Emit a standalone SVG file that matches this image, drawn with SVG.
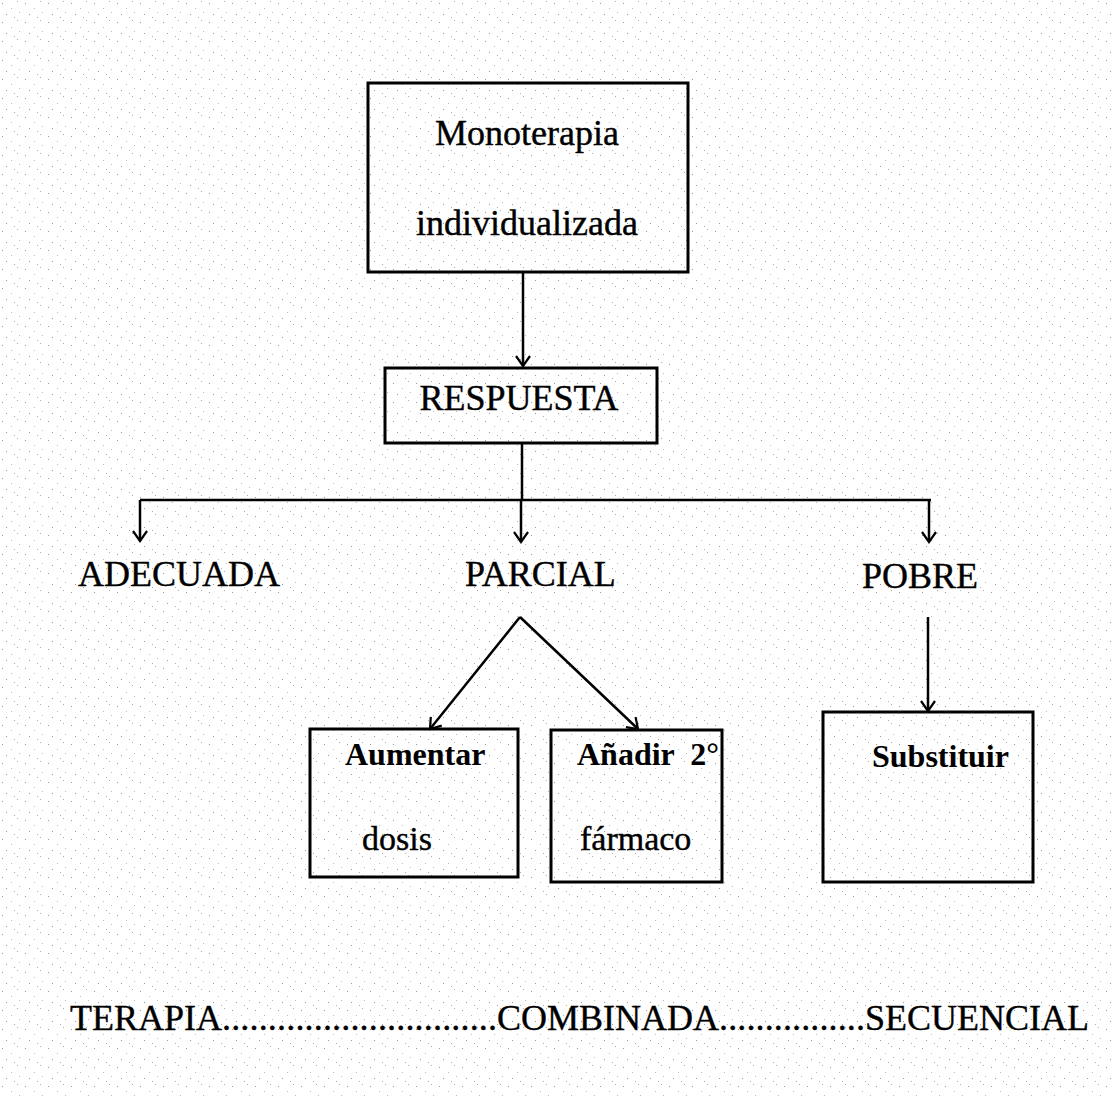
<svg xmlns="http://www.w3.org/2000/svg" width="1112" height="1096" viewBox="0 0 1112 1096">
<style>
.box{fill:none;stroke:#000;stroke-width:3}
.t{font-family:"Liberation Serif","Times New Roman",serif;font-size:36px;fill:#000;stroke:#000;stroke-width:0.4}
.tb{font-family:"Liberation Serif","Times New Roman",serif;font-size:32px;font-weight:bold;fill:#000}
.tr{font-family:"Liberation Serif","Times New Roman",serif;font-size:34px;fill:#000;stroke:#000;stroke-width:0.4}
.c{fill:none;stroke:#000;stroke-width:2.5}
</style>
<defs>
<pattern id="speck" width="23" height="19" patternUnits="userSpaceOnUse">
<rect x="2" y="3" width="1" height="1" fill="#999"/>
<rect x="11" y="8" width="1" height="1" fill="#bbb"/>
<rect x="17" y="1" width="1" height="1" fill="#aaa"/>
<rect x="6" y="14" width="1" height="1" fill="#999"/>
<rect x="19" y="12" width="1" height="1" fill="#bbb"/>
<rect x="14" y="17" width="1" height="1" fill="#aaa"/>
</pattern>
<marker id="arr" markerWidth="16" markerHeight="16" refX="12" refY="8" orient="auto" markerUnits="userSpaceOnUse">
<path d="M2,1 L12,8 L2,15" fill="none" stroke="#000" stroke-width="2.2"/>
</marker>
</defs>
<rect width="1112" height="1096" fill="#fff"/>
<rect width="1112" height="1096" fill="url(#speck)"/>

<g id="connectors">
<line class="c" x1="523" y1="272" x2="523" y2="366" marker-end="url(#arr)"/>
<line class="c" x1="522" y1="443" x2="522" y2="500"/>
<line class="c" x1="140" y1="500" x2="931" y2="500"/>
<line class="c" x1="140" y1="500" x2="140" y2="541" marker-end="url(#arr)"/>
<line class="c" x1="521" y1="500" x2="521" y2="542" marker-end="url(#arr)"/>
<line class="c" x1="929" y1="500" x2="929" y2="542" marker-end="url(#arr)"/>
<line class="c" x1="520" y1="617" x2="430" y2="729" marker-end="url(#arr)"/>
<line class="c" x1="520" y1="617" x2="638" y2="729" marker-end="url(#arr)"/>
<line class="c" x1="928" y1="617" x2="928" y2="711" marker-end="url(#arr)"/>
</g>

<g id="node-monoterapia">
<rect class="box" x="368" y="83" width="320" height="189"/>
<text class="t" x="527" y="145" text-anchor="middle">Monoterapia</text>
<text class="t" x="527" y="235" text-anchor="middle">individualizada</text>
</g>

<g id="node-respuesta">
<rect class="box" x="385" y="368" width="272" height="75"/>
<text class="t" x="519" y="410" text-anchor="middle">RESPUESTA</text>
</g>

<g id="node-adecuada">
<text class="t" x="78" y="586">ADECUADA</text>
</g>
<g id="node-parcial">
<text class="t" x="465" y="586">PARCIAL</text>
</g>
<g id="node-pobre">
<text class="t" x="862" y="588">POBRE</text>
</g>

<g id="node-aumentar">
<rect class="box" x="310" y="729" width="208" height="148"/>
<text class="tb" x="345" y="765">Aumentar</text>
<text class="tr" x="362" y="850">dosis</text>
</g>

<g id="node-anadir">
<rect class="box" x="551" y="730" width="171" height="152"/>
<text class="tb" x="577" y="765" xml:space="preserve">Añadir  2°</text>
<text class="tr" x="580" y="850">fármaco</text>
</g>

<g id="node-substituir">
<rect class="box" x="823" y="712" width="210" height="170"/>
<text class="tb" x="872" y="767">Substituir</text>
</g>

<g id="bottom-label">
<text class="t" x="70" y="1030">TERAPIA</text>
<text class="t" x="222" y="1030" textLength="275" lengthAdjust="spacing">..............................</text>
<text class="t" x="497" y="1030">COMBINADA</text>
<text class="t" x="719" y="1030" textLength="146" lengthAdjust="spacing">................</text>
<text class="t" x="865" y="1030">SECUENCIAL</text>
</g>
</svg>
